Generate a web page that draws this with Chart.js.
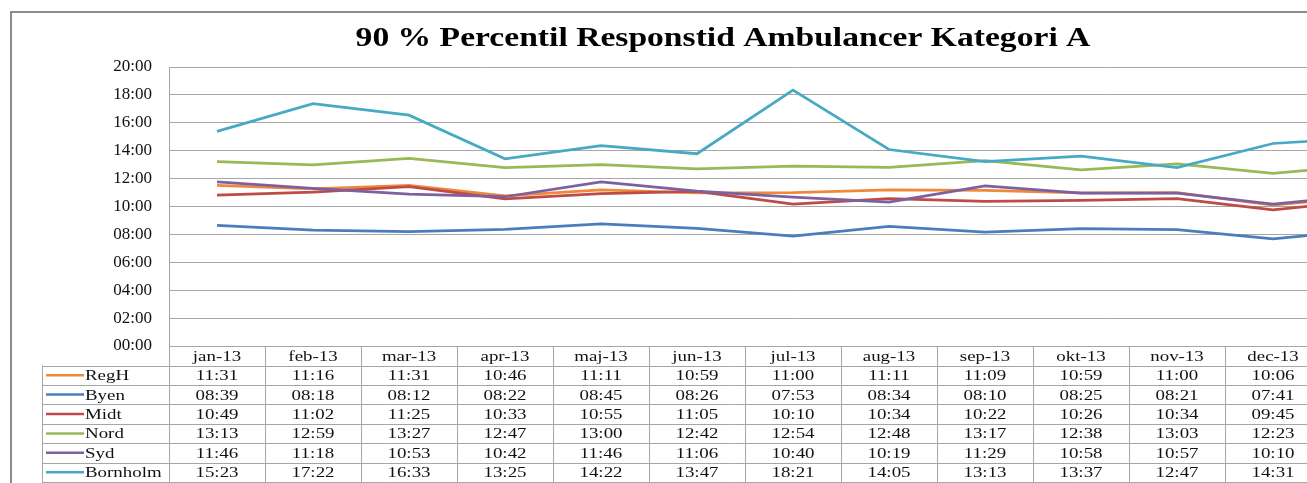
<!DOCTYPE html>
<html>
<head>
<meta charset="utf-8">
<script src="https://cdn.jsdelivr.net/npm/chart.js@4.4.0/dist/chart.umd.min.js"></script>
<style>
html, body { margin: 0; padding: 0; background: #fff; overflow: hidden; }
#wrap { width: 1440px; height: 483px; position: relative; }
</style>
</head>
<body>
<div id="wrap"><canvas id="grafica"></canvas></div>
<script>
// Datos (mm:ss) leidos de la tabla; la ultima columna (jan-14) queda fuera del recorte y es estimada
const meses = ['jan-13', 'feb-13', 'mar-13', 'apr-13', 'maj-13', 'jun-13', 'jul-13', 'aug-13', 'sep-13', 'okt-13', 'nov-13', 'dec-13', 'jan-14'];
const regH     = ['11:31', '11:16', '11:31', '10:46', '11:11', '10:59', '11:00', '11:11', '11:09', '10:59', '11:00', '10:06', '10:45'];
const byen     = ['08:39', '08:18', '08:12', '08:22', '08:45', '08:26', '07:53', '08:34', '08:10', '08:25', '08:21', '07:41', '08:21'];
const midt     = ['10:49', '11:02', '11:25', '10:33', '10:55', '11:05', '10:10', '10:34', '10:22', '10:26', '10:34', '09:45', '10:27'];
const nord     = ['13:13', '12:59', '13:27', '12:47', '13:00', '12:42', '12:54', '12:48', '13:17', '12:38', '13:03', '12:23', '12:59'];
const syd      = ['11:46', '11:18', '10:53', '10:42', '11:46', '11:06', '10:40', '10:19', '11:29', '10:58', '10:57', '10:10', '10:50'];
const bornholm = ['15:23', '17:22', '16:33', '13:25', '14:22', '13:47', '18:21', '14:05', '13:13', '13:37', '12:47', '14:31', '14:56'];
const yTicks = ['00:00', '02:00', '04:00', '06:00', '08:00', '10:00', '12:00', '14:00', '16:00', '18:00', '20:00'];
const titulo = '90 % Percentil Responstid Ambulancer Kategori A';

const series = [
    { nombre: 'RegH', datos: regH, color: '#F0883A' },
    { nombre: 'Byen', datos: byen, color: '#4A7EBB' },
    { nombre: 'Midt', datos: midt, color: '#BE4B48' },
    { nombre: 'Nord', datos: nord, color: '#98B954' },
    { nombre: 'Syd', datos: syd, color: '#7D60A0' },
    { nombre: 'Bornholm', datos: bornholm, color: '#46AAC5' }
];

const aMinutos = s => { const p = s.split(':'); return +p[0] * 60 + +p[1]; };

const fuente = 'Liberation Serif, Times New Roman, serif';
const gris = '#a6a6a6';

// el original esta algo estirado en horizontal
function texto(ctx, txt, x, y, sx, align) {
    ctx.save();
    ctx.translate(x, y);
    ctx.scale(sx, 1);
    ctx.textAlign = align;
    ctx.fillText(txt, 0, 0);
    ctx.restore();
}

// Marco exterior y titulo
const marco = {
    id: 'marco',
    beforeDraw(chart) {
        const ctx = chart.ctx;
        ctx.save();
        ctx.strokeStyle = '#8c8c8c';
        ctx.lineWidth = 2;
        ctx.strokeRect(11, 12, 1425, 600);
        ctx.fillStyle = '#000';
        ctx.font = 'bold 28px ' + fuente;
        ctx.textBaseline = 'alphabetic';
        texto(ctx, titulo, 723, 46, 1.2, 'center');
        ctx.restore();
    }
};

// Tabla de datos bajo el eje x
const tabla = {
    id: 'tabla',
    afterDraw(chart) {
        const ctx = chart.ctx;
        const x = chart.scales.x;
        const top = chart.chartArea.bottom;
        const hHead = 19.5, hRow = 19.4;
        const half = (x.getPixelForValue(1) - x.getPixelForValue(0)) / 2;
        const left = x.getPixelForValue(0) - half;
        const right = x.getPixelForValue(meses.length - 1) + half;
        const legIzq = 42;
        const bottom = top + hHead + hRow * series.length + 2;
        const sx = 1.26;

        ctx.save();
        ctx.strokeStyle = gris;
        ctx.lineWidth = 1;
        ctx.beginPath();
        // verticales
        for (let i = 0; i <= meses.length; i++) {
            const px = Math.round(left + i * half * 2) + 0.5;
            ctx.moveTo(px, top);
            ctx.lineTo(px, bottom);
        }
        ctx.moveTo(legIzq + 0.5, top + hHead);
        ctx.lineTo(legIzq + 0.5, bottom);
        // horizontales
        for (let r = 0; r <= series.length; r++) {
            const py = Math.round(top + hHead + r * hRow) + 0.5;
            ctx.moveTo(legIzq, py);
            ctx.lineTo(right, py);
        }
        ctx.stroke();

        ctx.fillStyle = '#111';
        ctx.font = '15px ' + fuente;
        ctx.textBaseline = 'middle';
        meses.forEach((m, i) => {
            texto(ctx, m, x.getPixelForValue(i), top + hHead / 2 + 1, sx, 'center');
        });
        series.forEach((s, r) => {
            const cy = top + hHead + r * hRow + hRow / 2 + 1;
            s.datos.forEach((v, i) => {
                texto(ctx, v, x.getPixelForValue(i), cy, sx, 'center');
            });
            ctx.strokeStyle = s.color;
            ctx.lineWidth = 2.5;
            ctx.beginPath();
            ctx.moveTo(46, cy - 1);
            ctx.lineTo(84, cy - 1);
            ctx.stroke();
            texto(ctx, s.nombre, 85, cy, sx, 'left');
        });
        ctx.restore();
    }
};

const ctx = document.getElementById('grafica').getContext('2d');
new Chart(ctx, {
    type: 'line',
    data: {
        labels: meses,
        datasets: series.map((s, i) => ({
            label: s.nombre,
            data: s.datos.map(aMinutos),
            borderColor: s.color,
            backgroundColor: s.color,
            borderWidth: 2.75,
            pointRadius: 0,
            tension: 0,
            order: series.length - i
        }))
    },
    options: {
        responsive: true,
        maintainAspectRatio: false,
        animation: false,
        layout: { padding: { top: 67, left: 29, right: 23, bottom: 137 } },
        plugins: {
            legend: { display: false },
            tooltip: { enabled: false },
            title: { display: false }
        },
        scales: {
            x: { display: false, offset: true },
            y: {
                min: 0,
                max: 1200,
                afterFit(scale) { scale.width = 140; },
                ticks: {
                    stepSize: 120,
                    padding: 17,
                    color: '#111',
                    font: { family: fuente, size: 17 },
                    callback: (v, i) => yTicks[i]
                },
                grid: { color: gris, drawTicks: false },
                border: { display: true, color: gris }
            }
        }
    },
    plugins: [marco, tabla]
});
</script>
</body>
</html>
